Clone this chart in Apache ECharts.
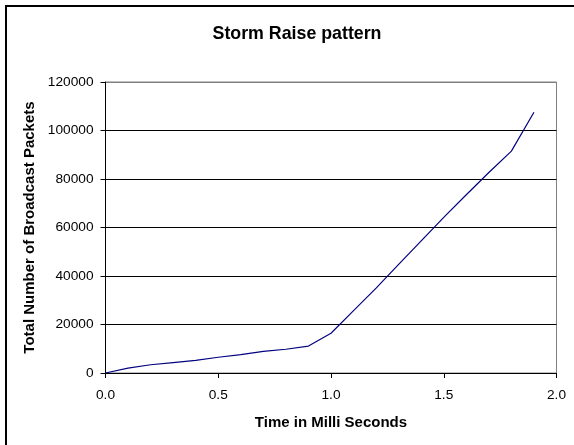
<!DOCTYPE html>
<html>
<head>
<meta charset="utf-8">
<script src="https://cdn.jsdelivr.net/npm/echarts@6/dist/echarts.min.js"></script>
<style>
html,body{margin:0;padding:0;background:#fff;}
#c{width:574px;height:445px;}
</style>
</head>
<body>
<div id="c"></div>
<script>
var timeMs = [0.0, 0.1, 0.2, 0.3, 0.4, 0.5, 0.6, 0.7, 0.8, 0.9, 1.0, 1.1, 1.2, 1.3, 1.4, 1.5, 1.6, 1.7, 1.8, 1.9];
var packets = [0, 2000, 3400, 4300, 5200, 6500, 7600, 8900, 9800, 11100, 16400, 25700, 35000, 44800, 54500, 64200, 73500, 82700, 91500, 107500];
var chartTitle = "Storm Raise pattern";
var xTitle = "Time in Milli Seconds";
var yTitle = "Total Number of Broadcast Packets";

var FONT = '"Liberation Sans", Arial, sans-serif';
var chart = echarts.init(document.getElementById('c'), null, {renderer: 'canvas'});
var data = timeMs.map(function (t, i) { return [t, packets[i]]; });

chart.setOption({
  animation: false,
  backgroundColor: '#fff',
  title: {
    text: chartTitle,
    left: 292, top: 20, textAlign: 'center',
    textStyle: {fontFamily: FONT, fontWeight: 'bold', fontSize: 17.8, color: '#000'}
  },
  graphic: [{
    type: 'rect', shape: {x: 6, y: 6, width: 700, height: 600},
    style: {fill: 'none', stroke: '#000', lineWidth: 2}, silent: true
  }],
  grid: {
    left: 105.5, top: 82, right: 17.5, bottom: 72,
    show: true, borderColor: '#808080', borderWidth: 1, backgroundColor: '#fff'
  },
  xAxis: {
    type: 'value', min: 0, max: 2, interval: 0.5,
    name: xTitle, nameLocation: 'middle', nameGap: 42,
    nameTextStyle: {fontFamily: FONT, fontWeight: 'bold', fontSize: 15, color: '#000'},
    axisLine: {show: true, onZero: false, lineStyle: {color: '#000', width: 1}},
    axisTick: {show: true, length: 5, inside: false, lineStyle: {color: '#000'}},
    axisLabel: {fontFamily: FONT, fontSize: 13.7, color: '#000', margin: 15,
      formatter: function (v) { return v.toFixed(1); }},
    splitLine: {show: false}
  },
  yAxis: {
    type: 'value', min: 0, max: 120000, interval: 20000,
    name: yTitle, nameLocation: 'middle', nameGap: 68, nameRotate: 90,
    nameTextStyle: {fontFamily: FONT, fontWeight: 'bold', fontSize: 15, color: '#000'},
    axisLine: {show: true, onZero: false, lineStyle: {color: '#000', width: 1}},
    axisTick: {show: true, length: 5, inside: false, lineStyle: {color: '#000'}},
    axisLabel: {fontFamily: FONT, fontSize: 13.7, color: '#000', margin: 12,
      formatter: function (v) { return String(v); }},
    splitLine: {show: true, lineStyle: {color: ['#000', '#000', '#000', '#000', '#000', '#000', '#808080'], width: 1}}
  },
  series: [{
    type: 'line', data: data, showSymbol: false, symbol: 'none',
    lineStyle: {color: '#000080', width: 1.2},
    z: 5
  }]
});
</script>
</body>
</html>
